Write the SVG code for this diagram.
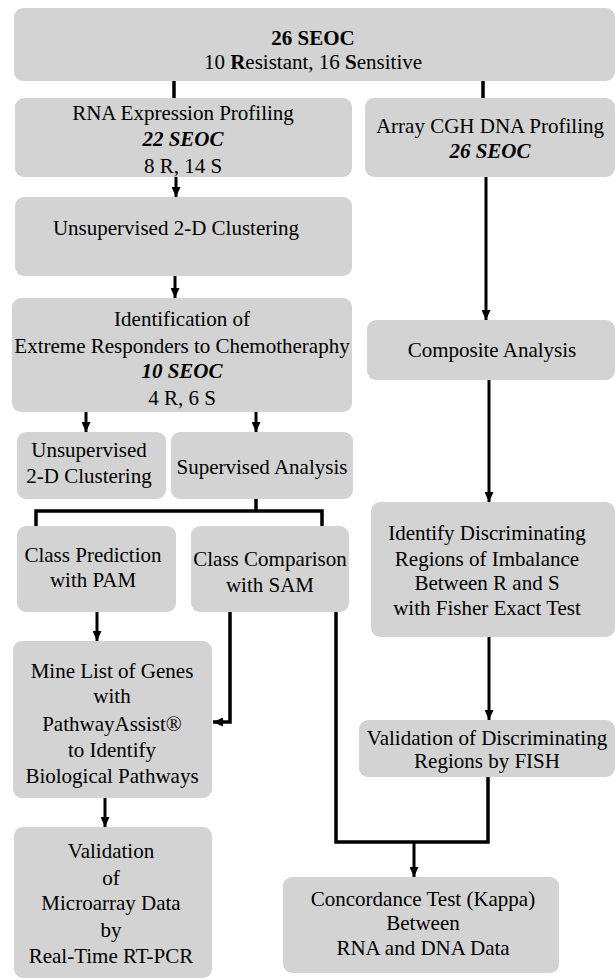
<svg xmlns="http://www.w3.org/2000/svg" width="615" height="980" viewBox="0 0 615 980">
<defs>
<style>
.box{fill:#d3d3d3;}
.t{font-family:"Liberation Serif","Times New Roman",serif;font-size:21px;fill:#000;text-anchor:middle;}
.b{font-weight:bold;}
.bi{font-weight:bold;font-style:italic;}
.c{fill:none;stroke:#000;stroke-width:3.5;}
.a{fill:none;stroke:#000;stroke-width:3;}
</style>
<marker id="ah" viewBox="0 0 10 9" refX="10" refY="4.5" markerWidth="10" markerHeight="9" orient="auto" markerUnits="userSpaceOnUse">
<path d="M0,0 L10,4.5 L0,9 z" fill="#000"/>
</marker>
</defs>
<rect width="615" height="980" fill="#fff"/>
<g id="connectors">
<line class="c" x1="174" y1="80" x2="174" y2="98"/>
<line class="c" x1="483" y1="80" x2="483" y2="98"/>
<line class="a" x1="176" y1="177" x2="176" y2="197" marker-end="url(#ah)"/>
<line class="a" x1="175" y1="276" x2="175" y2="298" marker-end="url(#ah)"/>
<line class="a" x1="486" y1="177" x2="486" y2="320" marker-end="url(#ah)"/>
<line class="a" x1="86" y1="412" x2="86" y2="432" marker-end="url(#ah)"/>
<line class="a" x1="256" y1="412" x2="256" y2="432" marker-end="url(#ah)"/>
<polyline class="c" points="256,499 256,511"/>
<polyline class="c" points="36,527 36,511 322,511 322,527"/>
<line class="a" x1="489" y1="380" x2="489" y2="502" marker-end="url(#ah)"/>
<line class="a" x1="97" y1="612" x2="97" y2="641" marker-end="url(#ah)"/>
<polyline class="c" points="230,612 230,722 213,722" marker-end="url(#ah)"/>
<polyline class="c" points="336,612 336,842 488,842 488,777"/>
<line class="a" x1="414" y1="842" x2="414" y2="877" marker-end="url(#ah)"/>
<line class="a" x1="489" y1="637" x2="489" y2="720" marker-end="url(#ah)"/>
<line class="a" x1="105" y1="798" x2="105" y2="827" marker-end="url(#ah)"/>
</g>
<g id="n-top"><rect class="box" x="14" y="8" width="601" height="73" rx="9"/>
<text class="t b" x="313" y="45">26 SEOC</text>
<text class="t" x="313" y="69">10 <tspan class="b">R</tspan>esistant, 16 <tspan class="b">S</tspan>ensitive</text></g>
<g id="n-rna"><rect class="box" x="15" y="98" width="337" height="79" rx="9"/>
<text class="t" x="183" y="120">RNA Expression Profiling</text>
<text class="t bi" x="183" y="146">22 SEOC</text>
<text class="t" x="183" y="173">8 R, 14 S</text></g>
<g id="n-acgh"><rect class="box" x="365" y="98" width="250" height="79" rx="9"/>
<text class="t" x="490" y="133">Array CGH DNA Profiling</text>
<text class="t bi" x="490" y="158">26 SEOC</text></g>
<g id="n-unsup"><rect class="box" x="15" y="197" width="337" height="79" rx="9"/>
<text class="t" x="176" y="235">Unsupervised 2-D Clustering</text></g>
<g id="n-ident"><rect class="box" x="12" y="298" width="340" height="114" rx="9"/>
<text class="t" x="182" y="326">Identification of</text>
<text class="t" x="182" y="353">Extreme Responders to Chemotheraphy</text>
<text class="t bi" x="182" y="378">10 SEOC</text>
<text class="t" x="182" y="405">4 R, 6 S</text></g>
<g id="n-comp"><rect class="box" x="367" y="320" width="248" height="60" rx="9"/>
<text class="t" x="492" y="357">Composite Analysis</text></g>
<g id="n-unsup2"><rect class="box" x="17" y="432" width="149" height="67" rx="9"/>
<text class="t" x="89" y="457">Unsupervised</text>
<text class="t" x="89" y="483">2-D Clustering</text></g>
<g id="n-sup"><rect class="box" x="171" y="432" width="182" height="67" rx="9"/>
<text class="t" x="262" y="474">Supervised Analysis</text></g>
<g id="n-pam"><rect class="box" x="17" y="526" width="159" height="86" rx="9"/>
<text class="t" x="93" y="562">Class Prediction</text>
<text class="t" x="93" y="587">with PAM</text></g>
<g id="n-sam"><rect class="box" x="191" y="526" width="158" height="86" rx="9"/>
<text class="t" x="270" y="566">Class Comparison</text>
<text class="t" x="270" y="592">with SAM</text></g>
<g id="n-fisher"><rect class="box" x="371" y="502" width="244" height="135" rx="9"/>
<text class="t" x="487" y="540">Identify Discriminating</text>
<text class="t" x="487" y="566">Regions of Imbalance</text>
<text class="t" x="487" y="590">Between R and S</text>
<text class="t" x="487" y="615">with Fisher Exact Test</text></g>
<g id="n-mine"><rect class="box" x="13" y="641" width="199" height="157" rx="9"/>
<text class="t" x="112" y="678">Mine List of Genes</text>
<text class="t" x="112" y="703">with</text>
<text class="t" x="112" y="731">PathwayAssist®</text>
<text class="t" x="112" y="757">to Identify</text>
<text class="t" x="112" y="783">Biological Pathways</text></g>
<g id="n-fish"><rect class="box" x="359" y="720" width="256" height="57" rx="9"/>
<text class="t" x="487" y="745">Validation of Discriminating</text>
<text class="t" x="487" y="768">Regions by FISH</text></g>
<g id="n-valid"><rect class="box" x="14" y="827" width="198" height="151" rx="9"/>
<text class="t" x="111" y="858">Validation</text>
<text class="t" x="111" y="885">of</text>
<text class="t" x="111" y="910">Microarray Data</text>
<text class="t" x="111" y="937">by</text>
<text class="t" x="111" y="963">Real-Time RT-PCR</text></g>
<g id="n-kappa"><rect class="box" x="283" y="877" width="276" height="96" rx="9"/>
<text class="t" x="423" y="906">Concordance Test (Kappa)</text>
<text class="t" x="423" y="930">Between</text>
<text class="t" x="423" y="955">RNA and DNA Data</text></g>
</svg>
